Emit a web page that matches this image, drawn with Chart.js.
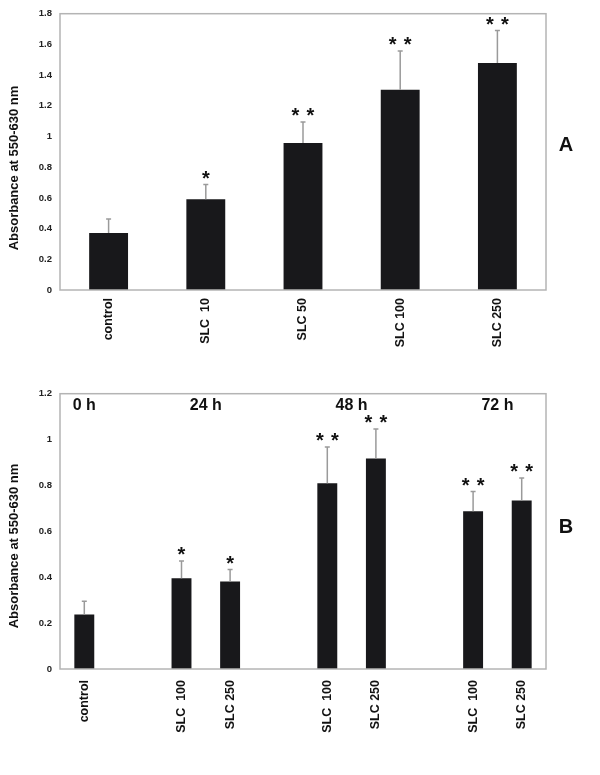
<!DOCTYPE html>
<html lang="en">
<head>
<meta charset="utf-8">
<title>Absorbance at 550-630 nm</title>
<style>
body { margin: 0; background: #fff; }
.wrap { position: absolute; left: 0; width: 600px; }
#wrapA { top: 0; height: 380px; }
#wrapB { top: 380px; height: 395px; }
</style>
</head>
<body>
<div id="wrapA" class="wrap"><canvas id="chartA"></canvas></div>
<div id="wrapB" class="wrap"><canvas id="chartB"></canvas></div>

<script src="https://cdn.jsdelivr.net/npm/chart.js"></script>
<script>
// panel A: dose response
const labelsA = ['control', 'SLC  10', 'SLC 50', 'SLC 100', 'SLC 250'];
const meanA = [0.372, 0.592, 0.957, 1.305, 1.479];
const errA = [0.091, 0.096, 0.138, 0.252, 0.211];
const starsA = [0, 1, 2, 2, 2];
const ticksA = { min: 0, max: 1.8, step: 0.2 };

// panel B: time course (empty slots separate the time points)
const labelsB = ['control', '', 'SLC  100', 'SLC 250', '', 'SLC  100', 'SLC 250', '', 'SLC  100', 'SLC 250'];
const meanB = [0.238, 0, 0.396, 0.381, 0, 0.81, 0.917, 0, 0.688, 0.735];
const errB = [0.057, 0, 0.075, 0.053, 0, 0.158, 0.129, 0, 0.086, 0.098];
const starsB = [0, 0, 1, 1, 0, 2, 2, 0, 2, 2];
const ticksB = { min: 0, max: 1.2, step: 0.2 };
const timeLabels = ['0 h', '24 h', '48 h', '72 h'];
const timeSlots = [0, 2.5, 5.5, 8.5];

const yTitle = 'Absorbance at 550-630 nm';
const barColor = '#18181b';
const FONT = 'Arial, "Liberation Sans", sans-serif';

const extras = {
	id: 'extras',
	afterDatasetsDraw(chart, args, opts) {
		const ctx = chart.ctx;
		const ys = chart.scales.y;
		const data = chart.data.datasets[0].data;
		const meta = chart.getDatasetMeta(0);
		ctx.save();
		meta.data.forEach((bar, i) => {
			const e = opts.err[i];
			if (!e) return;
			const yTop = ys.getPixelForValue(data[i] + e);
			ctx.strokeStyle = '#9a9a9a';
			ctx.lineWidth = 1.5;
			ctx.beginPath();
			ctx.moveTo(bar.x, bar.y);
			ctx.lineTo(bar.x, yTop);
			ctx.moveTo(bar.x - 2.5, yTop);
			ctx.lineTo(bar.x + 2.5, yTop);
			ctx.stroke();

			const n = opts.stars[i];
			if (!n) return;
			ctx.fillStyle = '#111';
			ctx.font = 'bold 20px ' + FONT;
			ctx.textAlign = 'center';
			ctx.textBaseline = 'alphabetic';
			const offs = n === 1 ? [0] : [-7.5, 7.5];
			for (const o of offs) {
				ctx.fillText('*', bar.x + o, yTop - 11 + 11.4);
			}
		});
		ctx.restore();
	},
	afterDraw(chart, args, opts) {
		const ctx = chart.ctx;
		const a = chart.chartArea;
		ctx.save();
		ctx.strokeStyle = '#b4b4b4';
		ctx.lineWidth = 1.5;
		ctx.strokeRect(a.left, a.top, a.right - a.left, a.bottom - a.top);

		ctx.fillStyle = '#111';
		ctx.textAlign = 'center';
		ctx.textBaseline = 'middle';
		ctx.font = 'bold 20px ' + FONT;
		ctx.fillText(opts.panel, 566, opts.panelY);

		if (opts.groups) {
			ctx.font = 'bold 16px ' + FONT;
			opts.groups.forEach((txt, i) => {
				ctx.fillText(txt, chart.scales.x.getPixelForValue(opts.slots[i]), a.top + 12);
			});
		}

		// y axis title, sits a little below the middle of the axis
		ctx.translate(14, opts.titleY);
		ctx.rotate(-Math.PI / 2);
		ctx.font = 'bold 13px ' + FONT;
		ctx.fillText(yTitle, 0, 0);
		ctx.restore();
	}
};

function makeChart(id, labels, values, yt, barPct, xHeight, tickPad, padTop, extraOpts) {
	return new Chart(document.getElementById(id), {
		type: 'bar',
		data: {
			labels: labels,
			datasets: [{
				data: values,
				backgroundColor: barColor,
				barPercentage: barPct,
				categoryPercentage: 1
			}]
		},
		options: {
			responsive: true,
			maintainAspectRatio: false,
			animation: false,
			layout: { padding: { top: padTop, right: 54, left: 0, bottom: 0 } },
			plugins: {
				legend: { display: false },
				tooltip: { enabled: false },
				extras: extraOpts
			},
			scales: {
				x: {
					grid: { display: false, drawTicks: false },
					border: { display: false },
					ticks: {
						autoSkip: false,
						minRotation: 90,
						maxRotation: 90,
						padding: tickPad,
						color: '#111',
						font: { family: FONT, size: 12.5, weight: 'bold' }
					},
					afterFit: s => { s.height = xHeight; }
				},
				y: {
					min: yt.min,
					max: yt.max,
					grid: { display: false, drawTicks: false },
					border: { display: false },
					ticks: {
						stepSize: yt.step,
						padding: 8,
						color: '#222',
						font: { family: FONT, size: 9.5, weight: 'bold' },
						callback: v => String(+v.toFixed(1))
					},
					afterFit: s => { s.width = 60; }
				}
			}
		},
		plugins: [extras]
	});
}

makeChart('chartA', labelsA, meanA, ticksA, 0.4, 90, 8, 11,
	{ err: errA, stars: starsA, panel: 'A', panelY: 145, titleY: 168 });
makeChart('chartB', labelsB, meanB, ticksB, 0.41, 106, 11, 10,
	{ err: errB, stars: starsB, panel: 'B', panelY: 147, titleY: 166, groups: timeLabels, slots: timeSlots });
</script>
</body>
</html>
